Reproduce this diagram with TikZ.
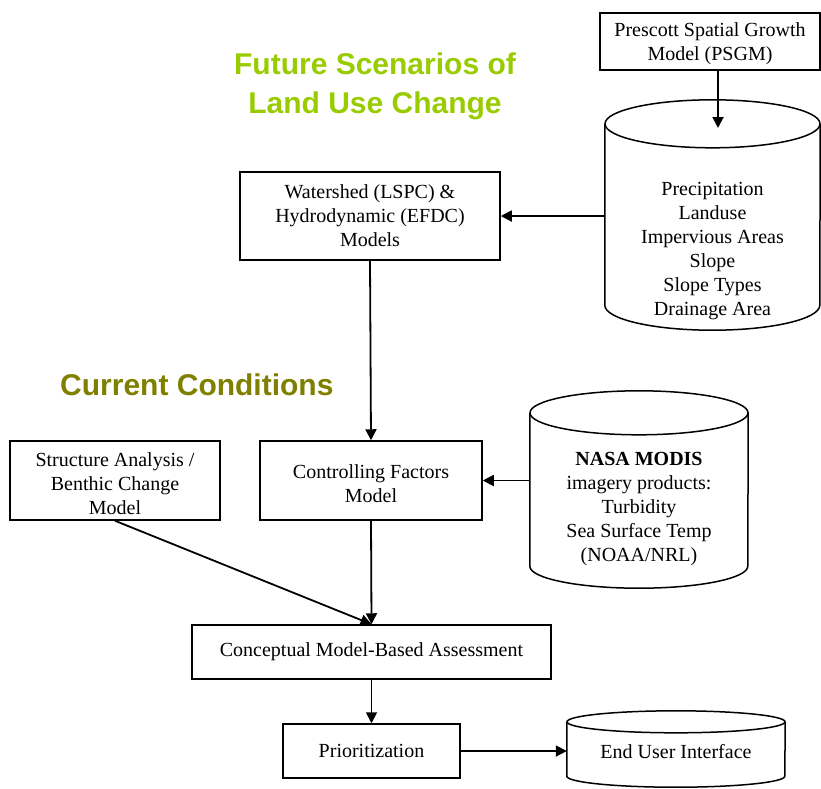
\documentclass[tikz,border=0pt]{standalone}
\usepackage{fontspec}
\setmainfont{Liberation Serif}
\newfontfamily\headfont{Liberation Sans}
\usetikzlibrary{arrows.meta,calc}
\definecolor{futuregreen}{HTML}{99CC00}
\definecolor{currentolive}{HTML}{808000}
% taller first line, to set a box's text a little lower
\newcommand\firstlinelift[1]{\rule{0pt}{#1}}

\begin{document}
\begin{tikzpicture}[x=1pt,y=-1pt,
  every node/.style={font=\fontsize{20}{24}\selectfont, align=center, inner sep=0pt},
  box/.style={draw, line width=1.5pt},
  drum/.style={line width=1.5pt},
  arr/.style={line width=1.8pt, -{Triangle[length=11pt,width=11pt]}},
  head/.style={font=\headfont\bfseries\fontsize{30}{39}\selectfont}]
\useasboundingbox (0,0) rectangle (821,788);

% section headings
\node[head, text=futuregreen] (future) at (375,86.5) {Future Scenarios of\\Land Use Change};
\node[head, text=currentolive, anchor=base west] (current) at (60,395) {Current Conditions};

% process boxes
\node[box, minimum width=220, minimum height=57] (psgm) at (710,41.5)
  {\firstlinelift{18pt}Prescott Spatial Growth\\Model (PSGM)};
\node[box, minimum width=260, minimum height=88] (ws) at (370,216)
  {Watershed (LSPC) \&\\Hydrodynamic (EFDC)\\Models};
\node[box, minimum width=222, minimum height=79] (ctrl) at (371,480.5)
  {\firstlinelift{20pt}Controlling Factors\\Model};
\node[box, minimum width=210, minimum height=79] (struct) at (115,480.5)
  {\firstlinelift{20pt}Structure Analysis /\\Benthic Change\\Model};
\node[box, minimum width=359, minimum height=54] (concept) at (371.5,652)
  {Conceptual Model-Based Assessment};
\node[box, minimum width=177, minimum height=54] (prior) at (371.5,751)
  {Prioritization};

% data stores (cylinders): body nodes, outlines, texts
\node[minimum width=215, minimum height=181] (landdb) at (712.5,214.5) {};
\draw[drum] (landdb.north) ellipse[x radius=107.5, y radius=24];
\draw[drum] (landdb.north west) -- (landdb.south west)
  arc[start angle=180, end angle=0, x radius=107.5, y radius=25] -- (landdb.north east);
\node (landtxt) at (712.5,251)
  {Precipitation\\Landuse\\Impervious Areas\\Slope\\Slope Types\\Drainage Area};

\node[minimum width=218, minimum height=153] (nasadb) at (639,489.5) {};
\draw[drum] (nasadb.north) ellipse[x radius=109, y radius=22];
\draw[drum] (nasadb.north west) -- (nasadb.south west)
  arc[start angle=180, end angle=0, x radius=109, y radius=22] -- (nasadb.north east);
\node (nasatxt) at (639,509)
  {\textbf{NASA MODIS}\\imagery products:\\Turbidity\\Sea Surface Temp\\(NOAA/NRL)};

\node[minimum width=218, minimum height=54] (euidb) at (676,749) {};
\draw[drum] (euidb.north) ellipse[x radius=109, y radius=11];
\draw[drum] (euidb.north west) -- (euidb.south west)
  arc[start angle=180, end angle=0, x radius=109, y radius=11] -- (euidb.north east);
\node (euitxt) at (676,752) {End User Interface};

% connectors
\coordinate (landin) at (718,128);
\draw[arr] (psgm.south -| landin) -- (landin);
\draw[arr] (ws.east -| landdb.west) -- (ws.east);
\draw[arr] (ws.south) -- (ctrl.north);
\draw[arr] (ctrl.east -| nasadb.west) -- (ctrl.east);
\draw[arr] (ctrl.south) -- (concept.north);
\draw[arr] (struct.south) -- (concept.north);
\draw[arr] (concept.south) -- (prior.north);
\draw[arr] (prior.east) -- (prior.east -| euidb.west);
\end{tikzpicture}
\end{document}
